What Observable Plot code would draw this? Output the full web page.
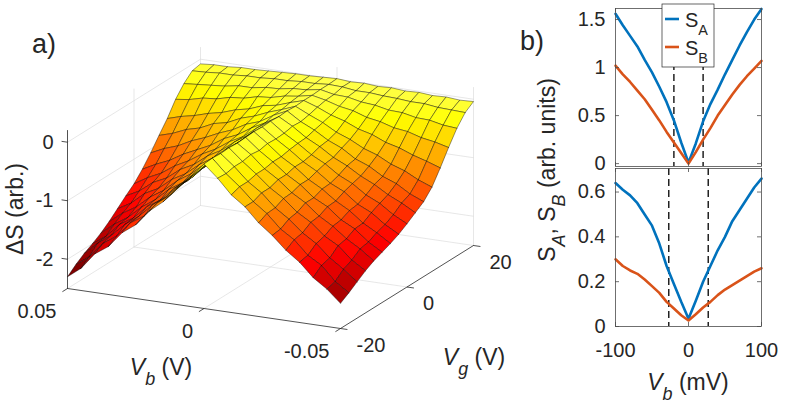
<!DOCTYPE html>
<html><head><meta charset="utf-8">
<script src="https://cdn.jsdelivr.net/npm/d3@7"></script>
<script src="https://cdn.jsdelivr.net/npm/@observablehq/plot@0.6"></script>
<style>
html,body{margin:0;padding:0;background:#fff;}
#wrap{position:relative;width:789px;height:404px;overflow:hidden;font-family:"Liberation Sans",Arial,sans-serif;}
#wrap svg{position:absolute;overflow:visible;}
</style></head><body><div id="wrap"></div>
<script>
// ---------- panel a) data : Delta S (arb.) on a (Vb, Vg) grid ----------
const vbGrid = [-0.05,-0.045,-0.04,-0.035,-0.03,-0.025,-0.02,-0.015,-0.01,-0.005,0,0.005,0.01,0.015,0.02,0.025,0.03,0.035,0.04,0.045,0.05];
const vgGrid = [-20,-17.5,-15,-12.5,-10,-7.5,-5,-2.5,0,2.5,5,7.5,10,12.5,15,17.5,20];
const dsVgM20   = [-2.07,-1.86,-1.70,-1.47,-1.30,-1.08,-0.90,-0.66,-0.49,-0.24,-0.03,-0.29,-0.52,-0.78,-0.97,-1.24,-1.41,-1.68,-1.84,-2.12,-2.30];
const dsVgM17_5 = [-1.98,-1.82,-1.58,-1.44,-1.21,-1.06,-0.83,-0.66,-0.44,-0.25,-0.02,-0.27,-0.49,-0.74,-0.92,-1.18,-1.33,-1.59,-1.75,-2.01,-2.18];
const dsVgM15   = [-1.88,-1.70,-1.54,-1.33,-1.18,-0.98,-0.82,-0.60,-0.44,-0.22,-0.03,-0.24,-0.49,-0.67,-0.91,-1.08,-1.31,-1.48,-1.70,-1.87,-2.08];
const dsVgM12_5 = [-1.78,-1.63,-1.42,-1.29,-1.09,-0.95,-0.75,-0.60,-0.40,-0.22,-0.02,-0.25,-0.45,-0.68,-0.85,-1.08,-1.23,-1.46,-1.60,-1.84,-2.00];
const dsVgM10   = [-1.70,-1.53,-1.39,-1.21,-1.07,-0.88,-0.74,-0.55,-0.40,-0.19,-0.03,-0.22,-0.45,-0.62,-0.84,-0.99,-1.20,-1.36,-1.57,-1.72,-1.91];
const dsVgM7_5  = [-1.64,-1.50,-1.31,-1.19,-1.00,-0.88,-0.69,-0.55,-0.37,-0.21,-0.02,-0.21,-0.42,-0.58,-0.78,-0.93,-1.13,-1.28,-1.48,-1.62,-1.80];
const dsVgM5    = [-1.58,-1.43,-1.30,-1.12,-0.99,-0.82,-0.69,-0.51,-0.37,-0.18,-0.01,-0.21,-0.37,-0.56,-0.71,-0.90,-1.03,-1.22,-1.34,-1.54,-1.67];
const dsVgM2_5  = [-1.51,-1.38,-1.21,-1.10,-0.92,-0.81,-0.64,-0.51,-0.34,-0.19,-0.02,-0.19,-0.34,-0.52,-0.65,-0.83,-0.95,-1.13,-1.24,-1.42,-1.54];
const dsVg0     = [-1.42,-1.30,-1.14,-1.03,-0.87,-0.76,-0.60,-0.48,-0.32,-0.18,-0.01,-0.16,-0.34,-0.46,-0.62,-0.74,-0.89,-1.01,-1.17,-1.28,-1.42];
const dsVg2_5   = [-1.32,-1.19,-1.08,-0.94,-0.83,-0.69,-0.58,-0.43,-0.31,-0.15,-0.02,-0.16,-0.28,-0.43,-0.53,-0.68,-0.79,-0.90,-1.04,-1.14,-1.26];
const dsVg5     = [-1.22,-1.12,-0.98,-0.89,-0.75,-0.66,-0.51,-0.41,-0.27,-0.16,-0.01,-0.12,-0.26,-0.34,-0.47,-0.56,-0.67,-0.76,-0.88,-0.96,-1.07];
const dsVg7_5   = [-1.06,-0.97,-0.85,-0.77,-0.65,-0.57,-0.45,-0.36,-0.23,-0.13,-0.02,-0.11,-0.19,-0.29,-0.36,-0.47,-0.52,-0.63,-0.69,-0.79,-0.86];
const dsVg10    = [-0.82,-0.74,-0.67,-0.58,-0.52,-0.42,-0.36,-0.26,-0.19,-0.09,-0.01,-0.08,-0.16,-0.20,-0.29,-0.34,-0.42,-0.47,-0.54,-0.59,-0.66];
const dsVg12_5  = [-0.56,-0.50,-0.46,-0.39,-0.36,-0.29,-0.25,-0.17,-0.13,-0.06,-0.01,-0.06,-0.09,-0.15,-0.17,-0.23,-0.25,-0.31,-0.33,-0.39,-0.42];
const dsVg15    = [-0.32,-0.30,-0.25,-0.24,-0.19,-0.18,-0.13,-0.11,-0.06,-0.05,0.00,-0.04,-0.05,-0.09,-0.10,-0.14,-0.14,-0.18,-0.20,-0.22,-0.24];
const dsVg17_5  = [-0.14,-0.13,-0.12,-0.09,-0.09,-0.07,-0.06,-0.04,-0.04,-0.01,0.00,-0.02,-0.02,-0.04,-0.04,-0.06,-0.06,-0.08,-0.08,-0.10,-0.11];
const dsVg20    = [-0.04,-0.05,-0.03,-0.04,-0.02,-0.03,-0.01,-0.02,0.00,-0.01,0.01,0.00,-0.01,-0.01,-0.02,-0.03,-0.04,-0.04,-0.06,-0.06,-0.08];
const dsRows = [dsVgM20,dsVgM17_5,dsVgM15,dsVgM12_5,dsVgM10,dsVgM7_5,dsVgM5,dsVgM2_5,dsVg0,dsVg2_5,dsVg5,dsVg7_5,dsVg10,dsVg12_5,dsVg15,dsVg17_5,dsVg20];
const zTicks = [-2,-1,0];
const vbTicks = [0.05,0,-0.05];
const vgTicks = [-20,0,20];

// ---------- panel b) data ----------
const vbMv  = [-100,-90,-80,-70,-60,-50,-40,-30,-20,-10,0,10,20,30,40,50,60,70,80,90,100];
const topSA = [1.56,1.44,1.33,1.22,1.08,0.95,0.80,0.64,0.45,0.22,0.01,0.21,0.44,0.62,0.77,0.93,1.08,1.23,1.37,1.50,1.61];
const topSB = [1.02,0.93,0.85,0.76,0.67,0.56,0.45,0.33,0.22,0.11,0.00,0.12,0.25,0.37,0.50,0.61,0.72,0.82,0.91,0.99,1.07];
const botSA = [0.64,0.61,0.585,0.55,0.50,0.45,0.37,0.27,0.19,0.11,0.035,0.115,0.20,0.27,0.34,0.40,0.47,0.52,0.57,0.62,0.66];
const botSB = [0.30,0.27,0.25,0.235,0.21,0.18,0.15,0.11,0.08,0.05,0.027,0.055,0.085,0.11,0.14,0.165,0.185,0.205,0.225,0.245,0.26];
const topDash = [-20,20];
const botDash = [-27,27];
const topYTicks = [0,0.5,1,1.5];
const botYTicks = [0,0.2,0.4,0.6];
const xTicksMv = [-100,0,100];

// ---------- styles ----------
const FONT = '"Liberation Sans", Arial, Helvetica, sans-serif';
const TXT = "#262626";
const BLUE = "#0072BD", ORANGE = "#D95319";
const baseStyle = {fontFamily: FONT, color: TXT, background: "transparent", overflow: "visible"};

function richText(parts, {x, y, size, anchor = "middle", rotate = 0, sub = 0.78, shift = 0.45}) {
  const t = d3.create("svg:text")
    .attr("transform", `translate(${x},${y}) rotate(${rotate})`)
    .attr("text-anchor", anchor).attr("font-size", size).attr("fill", TXT)
    .attr("font-family", FONT);
  let down = 0;
  for (const p of parts) {
    const s = t.append("tspan").text(p.t);
    if (p.i) s.attr("font-style", "italic");
    if (p.sub) { s.attr("font-size", size * sub).attr("dy", size * shift - down); down = size * shift; }
    else { if (down) s.attr("dy", -down); down = 0; }
  }
  return t.node();
}
function group(...nodes) { const g = d3.create("svg:g"); nodes.forEach(n => g.node().appendChild(n)); return g.node(); }

// ---------- 3D projection (orthographic view of the plot box) ----------
const vbMin = -0.05, vbMax = 0.05, vgMin = -20, vgMax = 20, zMin = -2.5, zMax = 0.2;
const view = {ox: 67, oy: 288, bx: 273, by: 40, gx: 133, gy: -83, zh: 158};
function proj(vb, vg, s) {
  const nb = (vbMax - vb) / (vbMax - vbMin), ng = (vg - vgMin) / (vgMax - vgMin), nz = (s - zMin) / (zMax - zMin);
  return [view.ox + view.bx * nb + view.gx * ng, view.oy + view.by * nb + view.gy * ng - view.zh * nz];
}
function depth(vb, vg) {
  const nb = (vbMax - vb) / (vbMax - vbMin), ng = (vg - vgMin) / (vgMax - vgMin);
  return view.by * nb + view.gy * ng; // larger = nearer the viewer
}

// surface quads, painted back to front
const quads = [];
for (let i = 0; i < vgGrid.length - 1; i++) for (let j = 0; j < vbGrid.length - 1; j++) {
  const c = [[j, i], [j + 1, i], [j + 1, i + 1], [j, i + 1]];
  quads.push({c, v: d3.mean(c, ([a, b]) => dsRows[b][a]), d: depth((vbGrid[j] + vbGrid[j + 1]) / 2, (vgGrid[i] + vgGrid[i + 1]) / 2)});
}
quads.sort((a, b) => a.d - b.d);
const surfPts = [];
quads.forEach((q, k) => {
  for (const [a, b] of [...q.c, q.c[0]]) {
    const [px, py] = proj(vbGrid[a], vgGrid[b], dsRows[b][a]);
    surfPts.push({k, px, py, v: q.v});
  }
});

function segPts(list) {
  const out = [];
  list.forEach((s, k) => s.forEach(p => { const [px, py] = proj(...p); out.push({k, px, py}); }));
  return out;
}
const gridSegs = [];
for (const vg of vgTicks.filter(v => v !== vgMin)) gridSegs.push([[vbMax, vg, zMin], [vbMax, vg, zMax]]);
for (const vb of vbTicks.filter(v => v !== vbMax)) gridSegs.push([[vb, vgMax, zMin], [vb, vgMax, zMax]]);
for (const z of zTicks) gridSegs.push([[vbMax, vgMin, z], [vbMax, vgMax, z], [vbMin, vgMax, z]]);
for (const vb of vbTicks.filter(v => v !== vbMin)) gridSegs.push([[vb, vgMin, zMin], [vb, vgMax, zMin]]);
for (const vg of vgTicks.filter(v => v !== vgMin)) gridSegs.push([[vbMax, vg, zMin], [vbMin, vg, zMin]]);
const axisSegs = [
  [[vbMax, vgMin, zMin], [vbMax, vgMin, zMax]],
  [[vbMax, vgMin, zMin], [vbMin, vgMin, zMin]],
  [[vbMin, vgMin, zMin], [vbMin, vgMax, zMin]]
];
function unit(x, y) { const n = Math.hypot(x, y); return [x / n, y / n]; }
const dirZ = unit(-view.bx, -view.by), dirB = unit(-view.gx, -view.gy), dirG = unit(view.bx, view.by);
const tickLinks = [
  ...zTicks.map(z => ({p: proj(vbMax, vgMin, z), d: dirZ, L: 6})),
  ...vbTicks.map(vb => ({p: proj(vb, vgMin, zMin), d: dirB, L: 6})),
  ...vgTicks.map(vg => ({p: proj(vbMin, vg, zMin), d: dirG, L: 7}))
];

// hot colormap limits
const hotDomain = [-2.8, -1.52, -0.25, 0.6];
const hotRange = ["#000000", "#ff0000", "#ffff00", "#ffffff"];

const left = Plot.plot({
  width: 520, height: 404, margin: 0,
  x: {domain: [0, 520], range: [0, 520], axis: null},
  y: {domain: [0, 404], range: [0, 404], axis: null},
  color: {type: "linear", domain: hotDomain, range: hotRange},
  style: baseStyle,
  marks: [
    Plot.line(segPts(gridSegs), {x: "px", y: "py", z: "k", stroke: "#dcdcdc", strokeWidth: 0.7}),
    Plot.line(segPts(axisSegs), {x: "px", y: "py", z: "k", stroke: "#262626", strokeWidth: 0.8}),
    Plot.link(tickLinks, {x1: d => d.p[0], y1: d => d.p[1], x2: d => d.p[0] + d.d[0] * d.L, y2: d => d.p[1] + d.d[1] * d.L, stroke: "#262626", strokeWidth: 0.8}),
    Plot.line(surfPts, {x: "px", y: "py", z: "k", fill: "v", stroke: "#000", strokeWidth: 0.45, strokeOpacity: 0.9}),
    Plot.text(zTicks, {x: d => proj(vbMax, vgMin, d)[0], y: d => proj(vbMax, vgMin, d)[1], text: d => String(d), textAnchor: "end", dx: -14, fontSize: 20, fill: TXT}),
    Plot.text(vbTicks, {x: d => proj(d, vgMin, zMin)[0], y: d => proj(d, vgMin, zMin)[1], text: d => String(d), textAnchor: "end", dx: -11, dy: 23, fontSize: 20, fill: TXT}),
    Plot.text(vgTicks, {x: d => proj(vbMin, d, zMin)[0], y: d => proj(vbMin, d, zMin)[1], text: d => String(d), textAnchor: "start", dx: 16, dy: 17, fontSize: 20, fill: TXT}),
    () => group(
      richText([{t: "a)"}], {x: 32, y: 53, size: 27, anchor: "start"}),
      richText([{t: "ΔS (arb.)"}], {x: 23, y: 209, size: 23, rotate: -90}),
      richText([{t: "V", i: true}, {t: "b", sub: true, i: true}, {t: " (V)"}], {x: 161, y: 375, size: 23}),
      richText([{t: "V", i: true}, {t: "g", sub: true, i: true}, {t: " (V)"}], {x: 474, y: 365, size: 23})
    )
  ]
});

// ---------- panel b) ----------
const FW = 269 - 95 - 28; // frame width
function ticksInside(yt, frameH) {
  return [
    Plot.tickY(yt, {y: d => d, stroke: "#4d4d4d", strokeWidth: 0.8, insetRight: FW - 4}),
    Plot.tickY(yt, {y: d => d, stroke: "#4d4d4d", strokeWidth: 0.8, insetLeft: FW - 4}),
    Plot.tickX(xTicksMv, {x: d => d, stroke: "#4d4d4d", strokeWidth: 0.8, insetTop: frameH - 4}),
    Plot.tickX(xTicksMv, {x: d => d, stroke: "#4d4d4d", strokeWidth: 0.8, insetBottom: frameH - 4})
  ];
}
const rows = (ys) => vbMv.map((v, i) => ({v, s: ys[i]}));

const topChart = Plot.plot({
  width: 269, height: 167, marginLeft: 95, marginRight: 28, marginTop: 8, marginBottom: 1,
  x: {domain: [-100, 100], axis: null},
  y: {domain: [-0.03, 1.615]},
  style: baseStyle,
  marks: [
    Plot.ruleX(topDash, {x: d => d, stroke: "#000", strokeWidth: 1.3, strokeDasharray: "7,4"}),
    Plot.line(rows(topSA), {x: "v", y: "s", stroke: BLUE, strokeWidth: 2.6}),
    Plot.line(rows(topSB), {x: "v", y: "s", stroke: ORANGE, strokeWidth: 2.6}),
    Plot.frame({stroke: "#4d4d4d", strokeWidth: 0.8}),
    ...ticksInside(topYTicks, 158),
    Plot.axisY(topYTicks, {tickSize: 0, tickPadding: 10, fontSize: 20, tickFormat: d => `${d}`, color: TXT, label: null}),
    () => {
      const g = d3.create("svg:g");
      g.append("rect").attr("x", 142).attr("y", 4).attr("width", 52).attr("height", 63).attr("fill", "#fff").attr("stroke", "#262626").attr("stroke-width", 0.7);
      g.append("line").attr("x1", 145).attr("x2", 159).attr("y1", 19).attr("y2", 19).attr("stroke", BLUE).attr("stroke-width", 2.6);
      g.append("line").attr("x1", 145).attr("x2", 159).attr("y1", 47).attr("y2", 47).attr("stroke", ORANGE).attr("stroke-width", 2.6);
      g.node().appendChild(richText([{t: "S"}, {t: "A", sub: true}], {x: 165, y: 27, size: 20, anchor: "start", sub: 0.72, shift: 0.4}));
      g.node().appendChild(richText([{t: "S"}, {t: "B", sub: true}], {x: 165, y: 55, size: 20, anchor: "start", sub: 0.72, shift: 0.4}));
      g.node().appendChild(richText([{t: "b)"}], {x: 0, y: 50, size: 27, anchor: "start"}));
      return g.node();
    }
  ]
});

const botChart = Plot.plot({
  width: 269, height: 237, marginLeft: 95, marginRight: 28, marginTop: 1, marginBottom: 78,
  x: {domain: [-100, 100]},
  y: {domain: [0, 0.705]},
  style: baseStyle,
  marks: [
    Plot.ruleX(botDash, {x: d => d, stroke: "#000", strokeWidth: 1.3, strokeDasharray: "7,4"}),
    Plot.line(rows(botSA), {x: "v", y: "s", stroke: BLUE, strokeWidth: 2.6}),
    Plot.line(rows(botSB), {x: "v", y: "s", stroke: ORANGE, strokeWidth: 2.6}),
    Plot.frame({stroke: "#4d4d4d", strokeWidth: 0.8}),
    ...ticksInside(botYTicks, 158),
    Plot.axisY(botYTicks, {tickSize: 0, tickPadding: 10, fontSize: 20, tickFormat: d => `${d}`, color: TXT, label: null}),
    Plot.axisX(xTicksMv, {tickSize: 0, tickPadding: 16, fontSize: 20, tickFormat: d => `${d}`, color: TXT, label: null}),
    () => group(
      richText([{t: "V", i: true}, {t: "b", sub: true, i: true}, {t: " (mV)"}], {x: 168, y: 223, size: 23}),
      richText([{t: "S"}, {t: "A", sub: true, i: true}, {t: ", S"}, {t: "B", sub: true, i: true}, {t: " (arb. units)"}], {x: 35, y: 3, size: 23, rotate: -90})
    )
  ]
});

const wrap = document.getElementById("wrap");
function place(node, x, y) { node.style.position = "absolute"; node.style.left = x + "px"; node.style.top = y + "px"; node.style.overflow = "visible"; wrap.appendChild(node); }
place(left, 0, 0);
place(topChart, 520, 0);
place(botChart, 520, 167);
</script>
</body></html>
